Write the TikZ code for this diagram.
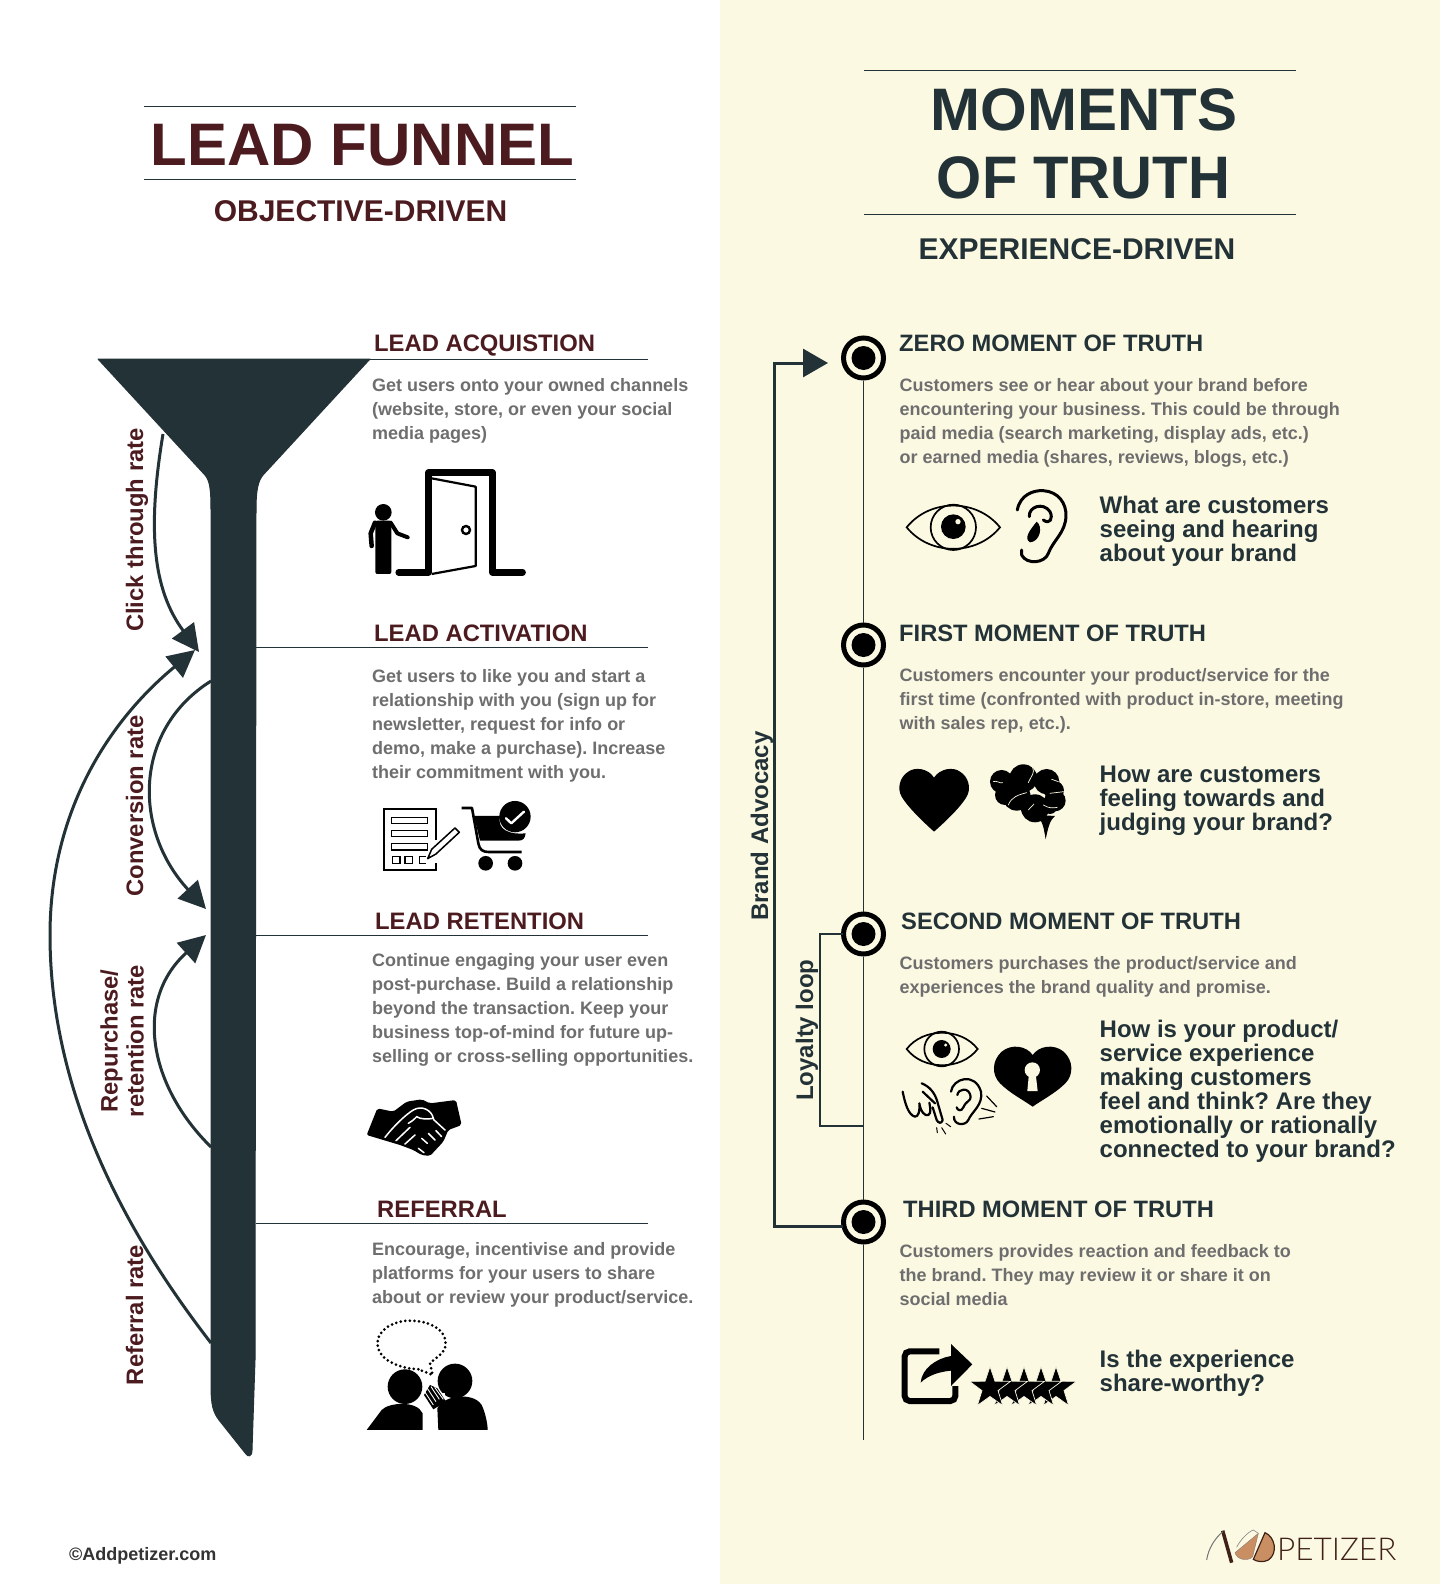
\documentclass[tikz,border=0pt]{standalone}
\usepackage{fontspec}
\setmainfont{Liberation Sans}
\newfontfamily\logofont{Lato Light}
\frenchspacing
\usetikzlibrary{arrows.meta,shapes.geometric}
\definecolor{cream}{HTML}{FCF9E3}
\definecolor{darkteal}{HTML}{233237}
\definecolor{wine}{HTML}{4C1B1F}
\definecolor{bodygrey}{HTML}{6E6E6E}
\definecolor{almond}{HTML}{C98F62}
\definecolor{logobrown}{HTML}{3F2118}
\begin{document}
\begin{tikzpicture}[x=1pt,y=-1pt,
  title left/.style={font=\fontsize{60}{68}\selectfont\bfseries, text=wine, inner sep=0},
  title right/.style={font=\fontsize{60}{68}\selectfont\bfseries, text=darkteal, inner sep=0},
  sub left/.style={font=\fontsize{30}{36}\selectfont\bfseries, text=wine, inner sep=0},
  sub right/.style={font=\fontsize{30}{36}\selectfont\bfseries, text=darkteal, inner sep=0},
  head left/.style={font=\fontsize{23.8}{28}\selectfont\bfseries, text=wine, anchor=west, inner sep=0},
  head right/.style={font=\fontsize{23.7}{28}\selectfont\bfseries, text=darkteal, anchor=west, inner sep=0},
  body text/.style={font=\fontsize{18}{24}\selectfont\bfseries, text=bodygrey, anchor=north west, align=left, inner sep=0, execute at begin node=\strut},
  ask text/.style={font=\fontsize{24}{24}\selectfont\bfseries, text=darkteal, anchor=north west, align=left, inner sep=0, execute at begin node=\strut},
  rate text/.style={font=\fontsize{23.8}{26}\selectfont\bfseries, text=wine, rotate=90, align=center, inner sep=0},
  loop text/.style={font=\fontsize{24}{26}\selectfont\bfseries, text=darkteal, rotate=90, inner sep=0},
  moment ring/.style={circle, draw=black, line width=5pt, fill=cream, minimum size=40pt, inner sep=0},
  moment dot/.style={circle, fill=black, minimum size=24pt, inner sep=0},
  thin rule/.style={draw=darkteal, line width=1pt},
  rate arrow/.style={draw=darkteal, line width=3pt},
  rate tip/.style={-{Triangle[length=27pt,width=27pt]}},
  bracket/.style={draw=darkteal, line width=3pt},
  star five/.style={star, star points=5, star point ratio=2.55, fill=black, draw=cream, line width=0.7pt, minimum size=43pt, inner sep=0},
  icon/.style 2 args={shift={(#1,#2)},x=0.3333pt,y=-0.3333pt},
  eye line/.style={draw=black, line width=1.7pt},
  ear line/.style={draw=black, line width=3pt, line cap=round, line join=round},
  cut/.style={draw=white, line width=1.5pt, line cap=round}]

  \useasboundingbox (0,0) rectangle (1440,1584);
  \fill[white] (0,0) rectangle (720,1584);
  \fill[cream] (720,0) rectangle (1440,1584);

  % titles
  \node[title left] (t0) at (362.5,145) {LEAD FUNNEL};
  \node[sub left] (s0) at (360.5,211) {OBJECTIVE-DRIVEN};
  \node[title right] (t1) at (1084,110) {MOMENTS};
  \node[title right] (t2) at (1083.5,177.5) {\scalebox{.967}[1]{OF TRUTH}};
  \node[sub right] (s1) at (1077,249) {EXPERIENCE-DRIVEN};
  \coordinate (ta0) at (144,106.5); \coordinate (tb0) at (576,106.5);
  \coordinate (ta1) at (144,179); \coordinate (tb1) at (576,179);
  \coordinate (ta2) at (864,70.5);  \coordinate (tb2) at (1296,70.5);
  \coordinate (ta3) at (864,214); \coordinate (tb3) at (1296,214);
  \path[thin rule] (ta0) edge (tb0) (ta1) edge (tb1) (ta2) edge (tb2) (ta3) edge (tb3);

  % funnel
  \fill[darkteal, draw=darkteal, line width=1pt, line join=round] (98,359) -- (370,359) -- (263,475)
    .. controls (258,481) and (256,490) .. (256,510) -- (255,1360) -- (252,1450)
    .. controls (252,1457) and (248,1457) .. (246,1454) -- (219,1420)
    .. controls (213,1412) and (211,1405) .. (211,1385) -- (211,510)
    .. controls (211,490) and (210,481) .. (205,475) -- cycle;

  % left column
  \node[head left] (h0) at (374,346) {LEAD ACQUISTION};
  \node[head left] (h1) at (374,633) {LEAD ACTIVATION};
  \node[head left] (h2) at (375,921) {LEAD RETENTION};
  \node[head left] (h3) at (377,1209) {REFERRAL};
  \coordinate (ra0) at (369,359);  \coordinate (rb0) at (648,359);
  \coordinate (ra1) at (256,647);  \coordinate (rb1) at (648,647);
  \coordinate (ra2) at (256,935);  \coordinate (rb2) at (648,935);
  \coordinate (ra3) at (256,1223.5); \coordinate (rb3) at (648,1223.5);
  \path[thin rule] (ra0) edge (rb0) (ra1) edge (rb1) (ra2) edge (rb2) (ra3) edge (rb3);

  \node[body text] (b0) at (372,378) {Get users onto your owned channels\\(website, store, or even your social\\media pages)};
  \node[body text] (b1) at (372,669) {Get users to like you and start a\\relationship with you (sign up for\\newsletter, request for info or\\demo, make a purchase). Increase\\their commitment with you.};
  \node[body text] (b2) at (372,953) {Continue engaging your user even\\post-purchase. Build a relationship\\beyond the transaction. Keep your\\business top-of-mind for future up-\\selling or cross-selling opportunities.};
  \node[body text] (b3) at (372,1242) {Encourage, incentivise and provide\\platforms for your users to share\\about or review your product/service.};

  % rate labels
  \node[rate text] (l0) at (137,530) {Click through rate};
  \node[rate text] (l1) at (134.5,806) {Conversion rate};
  \node[rate text] (l2) at (122,1041) {Repurchase/\\retention rate};
  \node[rate text] (l3) at (134.5,1315) {Referral rate};

  % rate arrows
  \coordinate (c0) at (163,434);  \coordinate (d0) at (199,652);
  \coordinate (c1) at (211,681);  \coordinate (d1) at (206,909);
  \coordinate (c2) at (211,1147); \coordinate (d2) at (206,935);
  \coordinate (c3) at (211,1343); \coordinate (d3) at (195,650);
  \coordinate (c3m) at (50,935);
  \draw[rate arrow, rate tip] (c0) .. controls (147,530) and (153,590) .. (d0);
  \draw[rate arrow, rate tip] (c1) .. controls (133,730) and (133,830) .. (d1);
  \draw[rate arrow, rate tip] (c2) .. controls (148,1085) and (134,1000) .. (d2);
  \draw[rate arrow, rate tip] (c3) .. controls (143,1255) and (50,1110) .. (c3m) .. controls (50,810) and (110,720) .. (d3);

  % right column
  \node[moment ring] (m0) at (863.5,358) {};
  \node[moment ring] (m1) at (863.5,645) {};
  \node[moment ring] (m2) at (863.5,934) {};
  \node[moment ring] (m3) at (863.5,1222) {};
  \coordinate (mend) at (863.5,1440);
  \path[thin rule] (m0) edge (m1) (m1) edge (m2) (m2) edge (m3) (m3) edge (mend);
  \node[moment dot] (p0) at (m0) {};
  \node[moment dot] (p1) at (m1) {};
  \node[moment dot] (p2) at (m2) {};
  \node[moment dot] (p3) at (m3) {};

  \node[head right] (k0) at (899,343) {ZERO MOMENT OF TRUTH};
  \node[head right] (k1) at (899,633) {FIRST MOMENT OF TRUTH};
  \node[head right] (k2) at (901,921) {SECOND MOMENT OF TRUTH};
  \node[head right] (k3) at (903,1209) {THIRD MOMENT OF TRUTH};

  \node[body text] (e0) at (899.5,378) {Customers see or hear about your brand before\\encountering your business. This could be through\\paid media (search marketing, display ads, etc.)\\or earned media (shares, reviews, blogs, etc.)};
  \node[body text] (e1) at (899.5,668) {Customers encounter your product/service for the\\first time (confronted with product in-store, meeting\\with sales rep, etc.).};
  \node[body text] (e2) at (899.5,956) {Customers purchases the product/service and\\experiences the brand quality and promise.};
  \node[body text] (e3) at (899.5,1244) {Customers provides reaction and feedback to\\the brand. They may review it or share it on\\social media};

  \node[ask text] (q0) at (1099.5,496) {What are customers\\seeing and hearing\\about your brand};
  \node[ask text] (q1) at (1099.5,766) {How are customers\\feeling towards and\\judging your brand?};
  \node[ask text] (q2) at (1099.5,1020) {How is your product/\\service experience\\making customers\\feel and think? Are they\\emotionally or rationally\\connected to your brand?};
  \node[ask text] (q3) at (1099.5,1350) {Is the experience\\share-worthy?};

  % brackets
  \node[loop text] (a0) at (762,826) {Brand Advocacy};
  \node[loop text] (a1) at (807,1030) {Loyalty loop};
  \coordinate (ba) at (843,1226); \coordinate (bb) at (774,1226);
  \coordinate (bc) at (774,363);  \coordinate (bd) at (828,363);
  \draw[bracket, -{Triangle[length=25pt,width=28pt]}] (ba) -- (bb) -- (bc) -- (bd);
  \coordinate (ya) at (843,934);  \coordinate (yb) at (820,934);
  \coordinate (yc) at (820,1126); \coordinate (yd) at (863.5,1126);
  \draw[bracket, line width=2.5pt] (ya) -- (yb) -- (yc) -- (yd);

  % door icon
  \begin{scope}[icon={340}{450}]
    \fill (130,187) circle (25);
    \fill[rounded corners=2pt] (106,212) -- (154,212) -- (154,372) -- (106,372) -- cycle;
    \draw[line width=4.5pt, line cap=round, line join=round] (105,218) -- (92,250) -- (95,288);
    \draw[line width=4pt, line cap=round, line join=round] (152,218) -- (172,250) -- (203,262);
    \draw[line width=6.5pt, line cap=round, line join=round] (176,367) -- (265,367) -- (265,68) -- (457,68) -- (457,367) -- (548,367);
    \draw[line width=2.2pt, line join=round] (275,85) -- (407,110) -- (407,348) -- (275,372);
    \draw[line width=2.4pt] (378,240) circle (12);
  \end{scope}

  % form and cart icons
  \begin{scope}[icon={340}{450}]
    \draw[line width=2pt] (287,1170) -- (287,1078) -- (133,1078) -- (133,1260) -- (287,1260) -- (287,1240);
    \draw[line width=1.5pt] (155,1102) rectangle (263,1120) (155,1141) rectangle (263,1160) (155,1181) rectangle (263,1200);
    \draw[line width=1.5pt] (157,1220) rectangle (180,1240) (195,1220) rectangle (218,1240) (258,1220) -- (238,1220) -- (238,1240) -- (258,1240);
    \draw[line width=1.5pt, line join=round] (263,1226) -- (275,1198) -- (345,1134) -- (358,1147) -- (288,1212) -- cycle;
    \draw[line width=2.6pt, line join=round] (365,1074) -- (396,1074) -- (415,1180) .. controls (418,1200) and (430,1206) .. (445,1206) -- (545,1206);
    \fill (402,1098) -- (480,1098) .. controls (470,1140) and (510,1155) .. (557,1150) .. controls (555,1165) and (550,1172) .. (535,1172) -- (420,1172) -- cycle;
    \fill (525,1100) circle (47);
    \draw[white, line width=2.4pt, line cap=round, line join=round] (498,1105) -- (514,1120) -- (552,1085);
    \fill (437,1240) circle (22);
    \fill (525,1240) circle (22);
  \end{scope}

  % handshake icon
  \begin{scope}[icon={350}{1080}]
    \fill[rounded corners=2pt] (82,85) -- (130,95) -- (170,65) -- (215,58) -- (240,70) -- (318,60) -- (335,135) -- (295,150) -- (280,185) -- (240,228) -- (215,225) -- (190,210) -- (150,195) -- (100,180) -- (50,165) -- cycle;
    \draw[cut] (105,172) .. controls (130,140) and (165,105) .. (190,90) .. controls (215,75) and (245,90) .. (250,115) .. controls (235,118) and (210,118) .. (200,110) .. controls (190,120) and (185,125) .. (175,130);
    \draw[cut] (138,182) -- (180,142);
    \draw[cut] (165,192) -- (195,165);
    \draw[cut] (250,118) -- (285,150);
    \draw[cut] (215,175) -- (232,190) (235,160) -- (255,180) (258,152) -- (275,170) (205,205) -- (222,218);
  \end{scope}

  % whisper icon
  \begin{scope}[icon={350}{1080}]
    \draw[line width=3pt, dash pattern=on 0pt off 4.6pt, line cap=round] (205,868) .. controls (140,865) and (82,835) .. (82,790) .. controls (82,750) and (130,722) .. (180,722) .. controls (240,722) and (287,750) .. (287,790) .. controls (287,820) and (260,830) .. (240,850) -- (248,885) -- (205,868);
    \fill (165,920) circle (52);
    \fill (315,903) circle (52);
    \fill (50,1050) -- (95,990) .. controls (115,968) and (200,960) .. (218,1000) -- (218,1050) -- cycle;
    \fill (265,1050) -- (262,985) .. controls (280,945) and (370,935) .. (395,975) .. controls (405,995) and (413,1030) .. (413,1050) -- cycle;
    \draw[white, line width=4pt] (215,955) -- (285,945);
    \fill (222,945) -- (240,915) -- (262,925) -- (288,965) -- (250,988) -- cycle;
    \draw[white, line width=0.9pt] (232,925) -- (258,965) (224,935) -- (250,975) (243,920) -- (268,958) (254,922) -- (280,958);
  \end{scope}

  % eye and ear icons
  \begin{scope}[icon={880}{480}]
    \draw[eye line] (80,142) .. controls (150,55) and (290,55) .. (360,142) .. controls (290,228) and (150,228) .. (80,142) -- cycle;
    \draw[eye line] (220,142) circle (68);
    \fill (220,140) circle (37);
    \fill[cream] (234,125) circle (8);
    \draw[ear line] (412,90) .. controls (420,45) and (460,30) .. (490,32) .. controls (535,35) and (560,70) .. (558,110) .. controls (555,160) and (520,180) .. (505,220) .. controls (495,250) and (440,255) .. (425,225) -- (425,210);
    \draw[ear line] (448,110) .. controls (445,80) and (490,65) .. (510,95) .. controls (520,115) and (510,135) .. (490,120);
    \fill (470,125) .. controls (490,140) and (480,185) .. (450,187) .. controls (430,175) and (450,150) .. (470,125);
  \end{scope}

  % heart and brain icons
  \begin{scope}[icon={880}{480}]
    \fill (162,893) .. controls (145,865) and (105,860) .. (85,875) .. controls (60,890) and (50,925) .. (65,950) .. controls (85,985) and (140,1035) .. (162,1055) .. controls (185,1035) and (240,985) .. (260,950) .. controls (275,925) and (265,890) .. (240,875) .. controls (220,860) and (180,865) .. (162,893) -- cycle;
    \fill (365,905) circle (35) (430,895) circle (42) (500,905) circle (38) (522,932) circle (30) (525,962) circle (32) (465,985) circle (42) (410,950) circle (42) (375,945) circle (30) (510,980) circle (22);
    \fill (470,1005) -- (525,1008) .. controls (510,1020) and (505,1040) .. (497,1078) .. controls (492,1050) and (490,1025) .. (470,1005) -- cycle;
    \draw[draw=cream, line width=0.7pt, line cap=round] (340,905) .. controls (350,900) and (360,912) .. (368,908) (385,975) .. controls (395,950) and (415,945) .. (440,938) (445,990) -- (462,972) (445,908) .. controls (455,885) and (465,880) .. (458,862) (515,898) -- (535,905) (510,940) -- (552,935) (490,975) .. controls (505,985) and (520,985) .. (532,982);
  \end{scope}

  % small eye, ear, hand and lock icons
  \begin{scope}[icon={880}{1020}]
    \draw[eye line] (80,87) .. controls (130,22) and (243,22) .. (293,87) .. controls (243,152) and (130,152) .. (80,87) -- cycle;
    \draw[eye line] (185,87) circle (52);
    \fill (185,87) circle (27);
    \fill[cream] (197,75) circle (5);
    \draw[ear line, line width=2.2pt] (213,215) .. controls (218,175) and (285,155) .. (303,215) .. controls (310,255) and (275,275) .. (265,300) .. controls (255,320) and (220,315) .. (222,290);
    \draw[ear line, line width=2.2pt] (232,225) .. controls (235,205) and (268,200) .. (272,230) .. controls (272,245) and (260,240) .. (250,262) .. controls (245,275) and (232,272) .. (230,262);
    \draw[ear line, line width=2.2pt] (68,215) .. controls (75,250) and (85,285) .. (105,290) .. controls (115,290) and (120,275) .. (118,250) .. controls (122,275) and (135,290) .. (145,285) .. controls (155,280) and (150,260) .. (148,248) (125,190) .. controls (150,200) and (165,220) .. (172,245) -- (188,300) .. controls (185,312) and (175,310) .. (170,300) -- (158,262) (128,215) -- (165,250);
    \draw[line width=1pt, line cap=round] (170,323) -- (172,338) (185,323) -- (197,342) (198,310) -- (212,320);
    \draw[line width=1.2pt, line cap=round] (320,228) -- (350,260) (305,265) -- (345,276) (297,297) -- (340,290);
    \fill (458,105) .. controls (440,78) and (395,70) .. (365,95) .. controls (335,122) and (335,165) .. (360,190) .. controls (390,220) and (430,240) .. (458,260) .. controls (486,240) and (526,220) .. (556,190) .. controls (581,165) and (581,122) .. (551,95) .. controls (521,70) and (476,78) .. (458,105) -- cycle;
    \fill[cream] (457,150) circle (23);
    \fill[cream] (447,160) -- (467,160) -- (473,213) -- (442,213) -- cycle;
  \end{scope}

  % share icon and stars
  \begin{scope}[icon={880}{1330}]
    \draw[line width=6pt, rounded corners=5pt] (178,64) -- (74,64) -- (74,213) -- (226,213) -- (226,168);
    \fill (277,103) -- (213,42) -- (213,78) .. controls (170,85) and (125,115) .. (122,158) .. controls (145,135) and (180,125) .. (213,122) -- (213,168) -- cycle;
  \end{scope}
  \node[star five] (r4) at (1056,1388) {};
  \node[star five] (r3) at (1041,1388) {};
  \node[star five] (r2) at (1024,1388) {};
  \node[star five] (r1) at (1007,1388) {};
  \node[star five] (r0) at (990,1388) {};

  % footer
  \node[font=\fontsize{18}{22}\selectfont\bfseries, text=black!80, anchor=west, inner sep=0] (f0) at (69,1556) {©Addpetizer.com};
  \begin{scope}[icon={1190}{1510}]
    \draw[logobrown, line width=3.5pt] (98,62) -- (125,158);
    \draw[black!55, line width=1pt] (98,65) .. controls (75,85) and (55,115) .. (50,150);
    \fill[almond, draw=logobrown!60, line width=0.4pt] (205,70) -- (135,128) .. controls (140,150) and (175,155) .. (188,140) -- cycle;
    \draw[black!50, line width=0.6pt] (140,112) .. controls (150,90) and (175,65) .. (190,60) -- (205,70);
    \fill[almond, draw=logobrown, line width=1.2pt] (225,68) .. controls (255,80) and (265,130) .. (235,150) .. controls (220,158) and (200,155) .. (190,148) -- cycle;
  \end{scope}
  \node[font=\logofont\fontsize{31.5}{34}\selectfont, text=logobrown, anchor=west, inner sep=0] (f1) at (1277,1549) {PETIZER};

\end{tikzpicture}
\end{document}
